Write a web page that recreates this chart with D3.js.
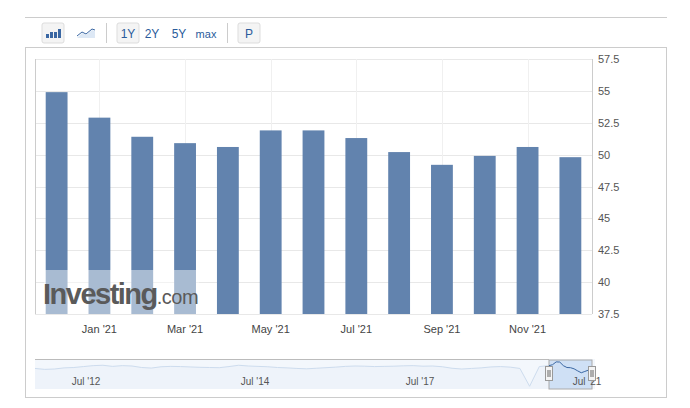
<!DOCTYPE html>
<html><head><meta charset="utf-8">
<script src="https://cdn.jsdelivr.net/npm/d3@7"></script>
<style>body{margin:0;background:#fff;font-family:Arial,"Liberation Sans",sans-serif}</style>
</head><body><div id="chart-area"></div>
<script>
const months = ["Dec '20","Jan '21","Feb '21","Mar '21","Apr '21","May '21","Jun '21","Jul '21","Aug '21","Sep '21","Oct '21","Nov '21","Dec '21"];
const values = [54.9, 52.9, 51.4, 50.9, 50.6, 51.9, 51.9, 51.3, 50.2, 49.2, 49.9, 50.6, 49.8];
const yTicks = [37.5, 40, 42.5, 45, 47.5, 50, 52.5, 55, 57.5];
const xLabels = ["Jan '21","Mar '21","May '21","Jul '21","Sep '21","Nov '21"];
// navigator history (rough)
const navValues = [51.5,51,51.2,51.8,52,52.5,53,53.2,52.6,53,52.8,52,51.7,52.4,52.6,52.5,52.3,52.1,52,51.9,52.5,53.2,52.8,52.6,52.4,52,51.8,51.5,51.3,51.6,51.9,52.2,52.6,52.8,52.7,52.5,52.6,52.7,52.9,53,52.7,52.8,52.4,51.6,51.2,51.5,51.8,52.3,52.5,52.2,51.5,42,52.5,53,53.5,55,54.9,53,52,51.9,51.3,50.2,49.2,49.9,50.6,49.8];
const navLabels = [{t:"Jul '12",x:86},{t:"Jul '14",x:255},{t:"Jul '17",x:420},{t:"Jul '21",x:587}];

const svg = d3.select("#chart-area").append("svg").attr("width",690).attr("height",408);

// toolbar
svg.append("line").attr("x1",25).attr("x2",667).attr("y1",17.5).attr("y2",17.5).attr("stroke","#ccc");
svg.append("rect").attr("x",25.5).attr("y",47.5).attr("width",641).attr("height",350).attr("fill","none").attr("stroke","#ccc");
function btn(x,w,label,pressed){
  if(pressed) svg.append("rect").attr("x",x).attr("y",23).attr("width",w).attr("height",20).attr("fill","#f4f4f4").attr("stroke","#ddd").attr("rx",2);
  if(label) svg.append("text").attr("x",x+w/2).attr("y",38).attr("text-anchor","middle").attr("font-size",label=="max"?11:12).attr("fill","#2a5b9b").text(label);
}
btn(42,22,null,true);
[0,1,2,3].forEach(i=>{const h=[4,6,6,9][i];svg.append("rect").attr("x",46+i*4).attr("y",38-h).attr("width",3).attr("height",h).attr("fill","#3a67a3");});
svg.append("path").attr("d","M77,38 L82,33 L86,35 L92,30 L95,31 L95,38 Z").attr("fill","#dde8f5");
svg.append("path").attr("d","M77,36 L82,32 L86,34 L92,29 L95,30").attr("fill","none").attr("stroke","#3a67a3");
svg.append("line").attr("x1",106.5).attr("x2",106.5).attr("y1",23).attr("y2",43).attr("stroke","#ccc");
btn(117,22,"1Y",true); btn(141,22,"2Y"); btn(168,22,"5Y"); btn(193,26,"max");
svg.append("line").attr("x1",227.5).attr("x2",227.5).attr("y1",23).attr("y2",43).attr("stroke","#ccc");
btn(238,22,"P",true);

// main plot
const plotL=35, plotR=592, plotT=59, plotB=314;
const x = d3.scaleBand().domain(months).range([plotL,plotR]).paddingInner(0.49).paddingOuter(0.25);
const y = d3.scaleLinear().domain([37.5,57.5]).range([plotB,plotT]);
const g = svg.append("g");
g.selectAll(".grid").data(yTicks).join("line").attr("x1",plotL).attr("x2",plotR)
  .attr("y1",d=>Math.round(y(d))+0.5).attr("y2",d=>Math.round(y(d))+0.5).attr("stroke","#e8e8e8");
g.selectAll(".vgrid").data(xLabels).join("line").attr("x1",d=>Math.round(x(d)+x.bandwidth()/2)+0.5).attr("x2",d=>Math.round(x(d)+x.bandwidth()/2)+0.5)
  .attr("y1",plotT).attr("y2",plotB).attr("stroke","#f0f0f0");
g.append("line").attr("x1",plotL+0.5).attr("x2",plotL+0.5).attr("y1",plotT).attr("y2",plotB).attr("stroke","#ccc");
g.append("line").attr("x1",plotR+0.5).attr("x2",plotR+0.5).attr("y1",plotT).attr("y2",plotB).attr("stroke","#ccc");
g.selectAll(".bar").data(values).join("rect")
  .attr("x",(d,i)=>x(months[i])).attr("width",x.bandwidth())
  .attr("y",d=>y(d)).attr("height",d=>plotB-y(d)).attr("fill","#6283ae");
g.selectAll(".ytl").data(yTicks).join("text").attr("x",plotR+6).attr("y",d=>y(d)+4)
  .attr("font-size",11).attr("fill","#555").text(d=>d);
g.selectAll(".xtl").data(xLabels).join("text").attr("x",d=>x(d)+x.bandwidth()/2).attr("y",plotB+19)
  .attr("text-anchor","middle").attr("font-size",11).attr("fill","#444").text(d=>d);

// watermark
svg.append("rect").attr("x",44).attr("y",270).attr("width",155).attr("height",44).attr("fill","#fff").attr("opacity",0.45);
const wm = svg.append("text").attr("x",43).attr("y",304).attr("font-family","Arial, 'Liberation Sans'").attr("letter-spacing",-1.5);
wm.append("tspan").attr("font-size",29).attr("font-weight","bold").attr("fill","#5a5a5a").text("Investing");
wm.append("tspan").attr("font-size",20).attr("fill","#5a5a5a").attr("letter-spacing",-0.5).text(".com");

// navigator
const n = navValues.length, sel0 = n-13;
const nx = d3.scaleLinear().domain([0,sel0,n-1]).range([35,549,592]);
const ny = d3.scaleLinear().domain([40,56]).range([390,360]);
svg.append("rect").attr("x",35).attr("y",359).attr("width",560).attr("height",30).attr("fill","#f3f7fc");
svg.append("line").attr("x1",35).attr("x2",549).attr("y1",359.5).attr("y2",359.5).attr("stroke","#bbb");
const area = d3.area().x((d,i)=>nx(i)).y0(389).y1(d=>ny(d));
const line = d3.line().x((d,i)=>nx(i)).y(d=>ny(d));
svg.append("path").datum(navValues).attr("d",area).attr("fill","#eef3fa");
svg.append("path").datum(navValues).attr("d",line).attr("fill","none").attr("stroke","#cddcee");
svg.append("rect").attr("x",nx(sel0)).attr("y",360).attr("width",nx(n-1)-nx(sel0)).attr("height",29).attr("fill","#cfe0f5").attr("stroke","#aaa");
svg.append("path").datum(navValues.slice(sel0)).attr("d",d3.line().x((d,i)=>nx(i+sel0)).y(d=>ny(d))).attr("fill","none").attr("stroke","#3a67a3");
svg.selectAll(".nl").data(navLabels).join("text").attr("x",d=>d.x).attr("y",385)
  .attr("text-anchor","middle").attr("font-size",10).attr("fill","#555").text(d=>d.t);
[nx(sel0),nx(n-1)].forEach(hx=>{
  svg.append("rect").attr("x",hx-3.5).attr("y",366.5).attr("width",7).attr("height",14).attr("fill","#f4f4f4").attr("stroke","#999");
  svg.append("line").attr("x1",hx-1).attr("x2",hx-1).attr("y1",370).attr("y2",377).attr("stroke","#666");
  svg.append("line").attr("x1",hx+1).attr("x2",hx+1).attr("y1",370).attr("y2",377).attr("stroke","#666");
});
</script></body></html>
